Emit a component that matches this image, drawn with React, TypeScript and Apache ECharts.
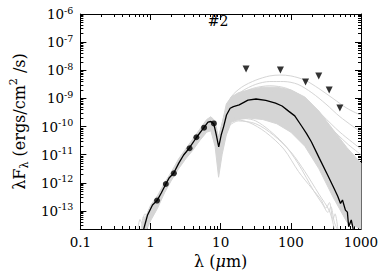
import React, { useEffect, useRef } from 'react';
import * as echarts from 'echarts';

// ---- axes (log10 units) ----
const X_MIN = -1;
const X_MAX = 3;
const Y_MIN = -13.64;
const Y_MAX = -6;
const xTickExps = [-1, 0, 1, 2, 3];
const xTickLabels = ['0.1', '1', '10', '100', '1000'];
const yTickExps = [-13, -12, -11, -10, -9, -8, -7, -6];

// ---- best-fit model (black) : log10(lambda/um), log10(lambda F_lambda) ----
const fitLogLambda = [-0.097, -0.042, 0.028, 0.093, 0.153, 0.218, 0.264, 0.329, 0.403, 0.472, 0.551, 0.657, 0.76, 0.819, 0.861, 0.903, 0.938, 0.972, 1.007, 1.042, 1.083, 1.135, 1.181, 1.264, 1.389, 1.504, 1.643, 1.782, 1.875, 1.972, 2.056, 2.153, 2.222, 2.292, 2.407, 2.524, 2.615, 2.667, 2.708, 2.736, 2.778, 2.806, 2.824, 2.861, 2.889];
const fitLogFlux = [-13.64, -13.14, -12.79, -12.63, -12.36, -12.04, -11.83, -11.66, -11.3, -11.01, -10.77, -10.38, -10.04, -9.84, -9.82, -9.91, -10.3, -10.72, -10.3, -10.0, -9.59, -9.35, -9.29, -9.23, -9.06, -9.02, -9.07, -9.17, -9.27, -9.46, -9.62, -9.98, -10.24, -10.54, -11.13, -11.72, -12.19, -12.47, -12.73, -12.61, -12.97, -13.04, -13.56, -13.32, -13.64];

// ---- observed photometry ----
const obsLambda = [1.24, 1.65, 2.15, 3.6, 4.5, 5.8, 8.0];
const obsLogFlux = [-12.63, -12.04, -11.66, -10.77, -10.38, -10.04, -9.89];

// ---- upper limits ----
const limLambda = [23, 71, 162, 250, 352, 500];
const limLogFlux = [-7.95, -7.99, -8.42, -8.2, -8.7, -9.34];

// ---- grey model envelope ----
const bandLogLambda = [-0.12, -0.05, 0.0, 0.1, 0.2, 0.3, 0.4, 0.5, 0.6, 0.7, 0.8, 0.86, 0.92, 0.97, 1.02, 1.08, 1.15, 1.25, 1.4, 1.6, 1.8, 2.0, 2.2, 2.4, 2.6, 2.8, 3.0];
const bandUpperLogFlux = [-13.5, -13.1, -12.8, -12.45, -12.0, -11.6, -11.15, -10.8, -10.45, -10.1, -9.75, -9.65, -9.8, -10.4, -9.9, -9.2, -8.95, -8.8, -8.7, -8.6, -8.6, -8.7, -8.95, -9.45, -10.1, -10.75, -11.3];
const bandLowerLogFlux = [-13.64, -13.64, -13.35, -12.9, -12.35, -11.9, -11.5, -11.15, -10.85, -10.5, -10.2, -10.15, -10.7, -11.8, -11.0, -10.3, -9.85, -9.75, -9.7, -9.75, -9.9, -10.2, -10.7, -11.5, -12.5, -13.4, -13.64];

// ---- individual grey models outside the dense band ----
const greyUpper1 = [[0.95, -10.6], [1.05, -9.6], [1.15, -8.95], [1.3, -8.6], [1.5, -8.35], [1.7, -8.2], [1.85, -8.17], [2.0, -8.2], [2.2, -8.35], [2.4, -8.65], [2.6, -9.0], [2.8, -9.35], [3.0, -9.6]];
const greyUpper2 = [[0.97, -10.5], [1.05, -9.7], [1.15, -9.1], [1.3, -8.75], [1.5, -8.5], [1.7, -8.4], [1.9, -8.4], [2.1, -8.5], [2.3, -8.8], [2.5, -9.2], [2.7, -9.65], [3.0, -10.2]];
const greyUpper3 = [[1.0, -10.3], [1.1, -9.4], [1.25, -8.9], [1.45, -8.65], [1.7, -8.55], [1.95, -8.65], [2.2, -9.0], [2.45, -9.6], [2.7, -10.2], [3.0, -10.8]];
const greyUpper4 = [[1.1, -9.6], [1.3, -9.0], [1.55, -8.75], [1.8, -8.75], [2.05, -8.95], [2.3, -9.4], [2.55, -10.0], [2.8, -10.6], [3.0, -11.0]];
const greyLower1 = [[1.0, -10.9], [1.1, -10.1], [1.18, -9.75], [1.4, -9.85], [1.64, -10.2], [1.9, -10.8], [2.11, -11.6], [2.3, -12.2], [2.43, -12.6], [2.5, -12.9], [2.55, -12.7], [2.6, -13.3], [2.63, -13.1], [2.67, -13.64]];
const greyLower2 = [[1.05, -10.4], [1.2, -9.7], [1.5, -9.8], [1.875, -10.55], [2.1, -11.3], [2.33, -12.3], [2.45, -12.75], [2.53, -13.05], [2.57, -12.85], [2.62, -13.4], [2.66, -13.64]];
const greyLower3 = [[1.1, -10.0], [1.25, -9.8], [1.5, -9.9], [1.75, -10.3], [2.0, -10.9], [2.2, -11.6], [2.4, -12.4], [2.55, -13.0], [2.62, -13.64]];
const greyNir1 = [[-0.18, -13.64], [-0.15, -13.3], [-0.12, -13.45], [-0.08, -13.1], [-0.04, -13.2], [0.0, -12.85], [0.05, -12.7]];
const greyNir2 = [[-0.13, -13.64], [-0.1, -13.2], [-0.06, -13.35], [-0.02, -12.95], [0.03, -12.75]];
const greyModels = [greyUpper1, greyUpper2, greyUpper3, greyUpper4, greyLower1, greyLower2, greyLower3, greyNir1, greyNir2];

const FONT = 'DejaVu Serif';
const GREY = '#d5d5d5';

function minorValues(lo: number, hi: number) {
  const out: number[] = [];
  for (let n = Math.floor(lo) - 1; n <= Math.ceil(hi); n++) {
    for (let k = 2; k <= 9; k++) {
      const v = n + Math.log10(k);
      if (v > lo && v < hi) out.push(v);
    }
  }
  return out;
}

export default function App() {
  const ref = useRef<HTMLDivElement>(null);
  useEffect(() => {
    if (!ref.current) return;
    const chart = echarts.init(ref.current, undefined, { renderer: 'svg' });
    const xMinor = minorValues(X_MIN, X_MAX);
    const yMinor = minorValues(Y_MIN, Y_MAX);
    const black = { color: '#000', width: 1 };

    const xAxisBase = (position: string, major: boolean, extra: any = {}) => ({
      type: 'value', min: X_MIN, max: X_MAX, position,
      axisLine: { show: major, onZero: false, lineStyle: black },
      axisTick: { show: true, inside: true, length: major ? 6 : 3, customValues: major ? xTickExps : xMinor, lineStyle: black },
      axisLabel: { show: false },
      splitLine: { show: false },
      ...extra,
    });
    const yAxisBase = (position: string, major: boolean, extra: any = {}) => ({
      type: 'value', min: Y_MIN, max: Y_MAX, position,
      axisLine: { show: major, onZero: false, lineStyle: black },
      axisTick: { show: true, inside: true, length: major ? 6 : 3, customValues: major ? yTickExps : yMinor, lineStyle: black },
      axisLabel: { show: false },
      splitLine: { show: false },
      ...extra,
    });

    const series: any[] = [
      {
        type: 'custom',
        xAxisIndex: 0, yAxisIndex: 0,
        clip: true,
        z: 1,
        data: [[bandLogLambda[0], bandUpperLogFlux[0]]],
        renderItem: (params: any, api: any) => {
          const pts: number[][] = [];
          for (let i = 0; i < bandLogLambda.length; i++) pts.push(api.coord([bandLogLambda[i], bandUpperLogFlux[i]]));
          for (let i = bandLogLambda.length - 1; i >= 0; i--) pts.push(api.coord([bandLogLambda[i], bandLowerLogFlux[i]]));
          return { type: 'polygon', shape: { points: pts }, style: { fill: GREY, stroke: GREY, lineWidth: 1 } };
        },
      },
      ...greyModels.map((m) => ({
        type: 'line', xAxisIndex: 0, yAxisIndex: 0, data: m, showSymbol: false, smooth: 0.3,
        lineStyle: { color: GREY, width: 1 }, z: 2, silent: true,
      })),
      {
        type: 'line', xAxisIndex: 0, yAxisIndex: 0,
        data: fitLogLambda.map((x, i) => [x, fitLogFlux[i]]),
        showSymbol: false, lineStyle: { color: '#000', width: 1.3 }, z: 5,
      },
      {
        type: 'scatter', xAxisIndex: 0, yAxisIndex: 0,
        data: obsLambda.map((l, i) => [Math.log10(l), obsLogFlux[i]]),
        symbol: 'circle', symbolSize: 6, itemStyle: { color: '#000' }, z: 6,
      },
      {
        type: 'scatter', xAxisIndex: 0, yAxisIndex: 0,
        data: limLambda.map((l, i) => [Math.log10(l), limLogFlux[i]]),
        symbol: 'triangle', symbolRotate: 180, symbolSize: 7, itemStyle: { color: '#000' }, z: 6,
      },
    ];

    chart.setOption({
      animation: false,
      grid: { left: 73, right: 25, top: 14, bottom: 47, containLabel: false },
      graphic: [
        { type: 'text', x: 218, y: 21, style: { text: '#2', fontFamily: FONT, fontSize: 14, fill: '#000', align: 'center', verticalAlign: 'middle' } },
      ],
      xAxis: [
        xAxisBase('bottom', true, {
          axisLabel: {
            show: true, customValues: xTickExps, margin: 6,
            formatter: (v: number) => xTickLabels[xTickExps.indexOf(Math.round(v))] ?? '',
            color: '#000', fontFamily: FONT, fontSize: 13.5,
          },
          name: 'λ ({i|μ}m)', nameLocation: 'middle', nameGap: 19,
          nameTextStyle: { fontFamily: FONT, fontSize: 16, color: '#000', rich: { i: { fontFamily: FONT, fontSize: 16, fontStyle: 'italic', color: '#000' } } },
        }),
        xAxisBase('bottom', false),
        xAxisBase('top', true),
        xAxisBase('top', false),
      ],
      yAxis: [
        yAxisBase('left', true, {
          axisLabel: {
            show: true, customValues: yTickExps, margin: 7,
            formatter: (v: number) => `{b|10}{s|${Math.round(v)}}`,
            rich: {
              b: { fontFamily: FONT, fontSize: 13.5, color: '#000', lineHeight: 18 },
              s: { fontFamily: FONT, fontSize: 9.5, color: '#000', verticalAlign: 'top' },
            },
          },
          name: 'λF{sub|λ} (ergs/cm{sup|2} /s)', nameLocation: 'middle', nameGap: 47,
          nameTextStyle: {
            fontFamily: FONT, fontSize: 16, color: '#000', lineHeight: 22,
            rich: {
              sub: { fontFamily: FONT, fontSize: 11, color: '#000', verticalAlign: 'bottom' },
              sup: { fontFamily: FONT, fontSize: 11, color: '#000', verticalAlign: 'top' },
            },
          },
        }),
        yAxisBase('left', false),
        yAxisBase('right', true),
        yAxisBase('right', false),
      ],
      series,
    });
    return () => chart.dispose();
  }, []);
  return <div ref={ref} style={{ position: 'fixed', left: 0, top: 0, width: 386, height: 276, background: '#fff' }} />;
}
